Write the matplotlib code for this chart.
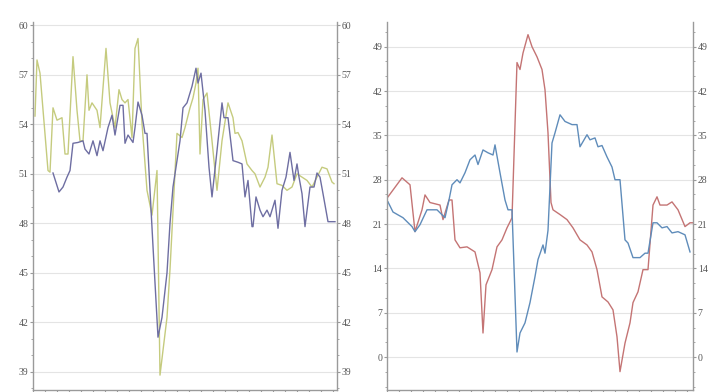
import numpy as np
import matplotlib
matplotlib.use("Agg")
import matplotlib.pyplot as plt
from matplotlib.ticker import MultipleLocator, AutoMinorLocator

# left panel: two index series (time in arbitrary steps)
green_t = [2, 4, 7, 15, 17, 20, 24, 29, 32, 35, 40, 44, 47, 50, 54, 56, 59, 64, 67, 73, 77, 82,
           86, 89, 92, 95, 99, 102, 105, 109, 114, 119, 119, 124, 127, 130, 134, 137, 144, 149,
           152, 157, 160, 163, 165, 167, 170, 174, 179, 184, 189, 195, 200, 202, 205, 209,
           214, 219, 222, 227, 232, 235, 239, 244, 249, 254, 259, 264, 269, 274, 279, 284,
           289, 294, 299, 301]
green_v = [54.5, 57.9, 57.1, 51.2, 51.1, 55.0, 54.25, 54.4, 52.2, 52.2, 58.1, 54.85, 53.0, 53.0,
           57.0, 54.85, 55.3, 54.85, 53.8, 58.6, 55.3, 53.8, 56.1, 55.5, 55.3, 55.5, 53.2, 58.6,
           59.2, 54.05, 50.0, 48.5, 48.5, 51.2, 38.8, 40.3, 42.3, 45.2, 53.45, 53.2, 53.8, 55.0,
           55.6, 56.5, 57.4, 52.2, 55.5, 55.9, 53.0, 50.0, 53.0, 55.3, 54.4, 53.45, 53.5, 53.0,
           51.6, 51.2, 51.0, 50.2, 50.8, 51.4, 53.35, 50.4, 50.3, 50.0, 50.2, 51.0, 50.8, 50.6,
           50.2, 50.8, 51.4, 51.3, 50.5, 50.4]
purple_t = [20, 26, 30, 34, 37, 40, 45, 50, 52, 56, 60, 64, 67, 70, 75, 79, 82, 87, 90, 92, 95,
            100, 102, 105, 109, 112, 114, 120, 125, 129, 134, 137, 140, 147, 150, 154, 159, 163,
            165, 168, 172, 176, 179, 184, 189, 191, 195, 200, 205, 209, 212, 215, 219, 220, 223,
            227, 230, 234, 237, 242, 245, 249, 253, 257, 261, 264, 266, 269, 272, 277, 281, 284,
            287, 290, 295, 299, 302]
purple_v = [51.05, 49.9, 50.2, 50.8, 51.2, 52.85, 52.9, 53.0, 52.5, 52.2, 53.0, 52.1, 53.0, 52.4,
            53.8, 54.55, 53.35, 55.15, 55.15, 52.85, 53.35, 52.9, 53.8, 55.35, 54.55, 53.45,
            53.45, 46.6, 41.1, 42.3, 45.0, 48.0, 50.2, 53.0, 55.0, 55.3, 56.3, 57.4, 56.5, 57.1,
            54.85, 51.4, 49.6, 52.4, 55.3, 54.4, 54.4, 51.8, 51.7, 51.6, 49.6, 50.6, 47.8, 47.8,
            49.6, 48.8, 48.4, 48.8, 48.4, 49.4, 47.7, 50.0, 50.8, 52.3, 50.6, 51.6, 50.8, 49.8,
            47.8, 50.2, 50.2, 51.05, 50.8, 49.8, 48.1, 48.1, 48.1]

# right panel
red_t = [1, 15, 23, 28, 35, 38, 43, 53, 56, 62, 65, 68, 73, 80, 88, 93, 96, 99, 105, 110, 115,
         120, 123, 125, 130, 133, 136, 141, 145, 150, 155, 158, 161, 164, 166, 173, 180, 186, 193,
         200, 205, 210, 215, 221, 226, 230, 233, 238, 243, 246, 251, 256, 261, 266, 270, 273,
         280, 285, 291, 298, 303, 306]
red_v = [25.3, 28.3, 27.2, 19.8, 23.25, 25.6, 24.4, 24.0, 21.7, 24.8, 24.8, 18.5, 17.25, 17.4,
         16.6, 13.3, 3.8, 11.4, 13.8, 17.4, 18.5, 20.4, 21.35, 22.0, 46.5, 45.4, 48.0, 50.9, 49.0,
         47.4, 45.4, 42.2, 35.4, 24.4, 23.25, 22.5, 21.7, 20.4, 18.5, 17.7, 16.6, 13.8, 9.5, 8.7,
         7.45, 3.2, -2.3, 2.2, 5.4, 8.6, 10.3, 13.8, 13.8, 24.0, 25.3, 24.0, 24.0, 24.5, 23.25,
         20.6, 21.2, 21.2]
blue_t = [1, 6, 16, 25, 28, 33, 40, 50, 58, 62, 65, 70, 73, 78, 83, 88, 91, 96, 101, 106, 108,
          113, 118, 121, 125, 130, 133, 138, 143, 148, 151, 156, 158, 161, 165, 168, 173, 178,
          185, 190, 193, 200, 203, 208, 211, 215, 220, 225, 228, 233, 238, 241, 246, 253, 258,
          261, 266, 270, 275, 280, 285, 291, 298, 303]
blue_v = [24.5, 22.9, 22.0, 20.6, 19.8, 20.9, 23.25, 23.25, 22.0, 24.8, 27.2, 28.0, 27.5, 29.1,
          31.15, 31.9, 30.4, 32.7, 32.25, 31.9, 33.5, 29.1, 24.8, 23.25, 23.25, 0.8, 3.8, 5.4, 8.6,
          12.7, 15.4, 17.7, 16.4, 20.0, 33.8, 35.4, 38.25, 37.2, 36.7, 36.7, 33.2, 35.1, 34.3,
          34.6, 33.2, 33.4, 31.6, 30.0, 28.0, 28.0, 18.5, 18.0, 15.7, 15.7, 16.4, 16.4, 21.2,
          21.2, 20.4, 20.6, 19.6, 19.8, 19.3, 16.6]

left_ticks = [39, 42, 45, 48, 51, 54, 57, 60]
right_ticks = [0, 7, 14, 21, 28, 35, 42, 49]

fig = plt.figure(figsize=(7.2, 3.92), dpi=100)
ax1 = fig.add_axes([33 / 720, 2 / 392, 304 / 720, 368 / 392])
ax2 = fig.add_axes([387 / 720, 2 / 392, 306 / 720, 368 / 392])

ax1.plot(green_t, green_v, color='#c5cb7e', lw=1.0)
ax1.plot(purple_t, purple_v, color='#6e6ea2', lw=1.0)
ax1.set_xlim(0, 304)
ax1.set_ylim(37.9, 60.2)
ax1.set_yticks(left_ticks)
ax1.yaxis.set_minor_locator(MultipleLocator(1))

ax2.plot(red_t, red_v, color='#c47474', lw=1.0)
ax2.plot(blue_t, blue_v, color='#5f8cba', lw=1.0)
ax2.set_xlim(0, 306)
ax2.set_ylim(-5.2, 52.9)
ax2.set_yticks(right_ticks)
ax2.yaxis.set_minor_locator(AutoMinorLocator(3))

for ax in (ax1, ax2):
    ax.grid(axis='y', color='#e4e4e4', lw=0.8)
    ax.set_axisbelow(True)
    ax.spines['top'].set_visible(False)
    for s in ('left', 'right', 'bottom'):
        ax.spines[s].set_color('#9a9a9a')
        ax.spines[s].set_linewidth(1.0)
    ax.xaxis.set_major_locator(MultipleLocator(12))
    ax.tick_params(axis='x', length=2, color='#9a9a9a', labelbottom=False)
    ax.tick_params(axis='y', which='major', length=2.5, width=0.8, color='#9a9a9a',
                   right=True, labelright=True, labelsize=7, labelcolor='#555555', pad=1)
    ax.tick_params(axis='y', which='minor', length=1.5, color='#9a9a9a', right=True)
    for lab in ax.get_yticklabels():
        lab.set_family('Liberation Serif')

fig.savefig('out.png', dpi=100)
